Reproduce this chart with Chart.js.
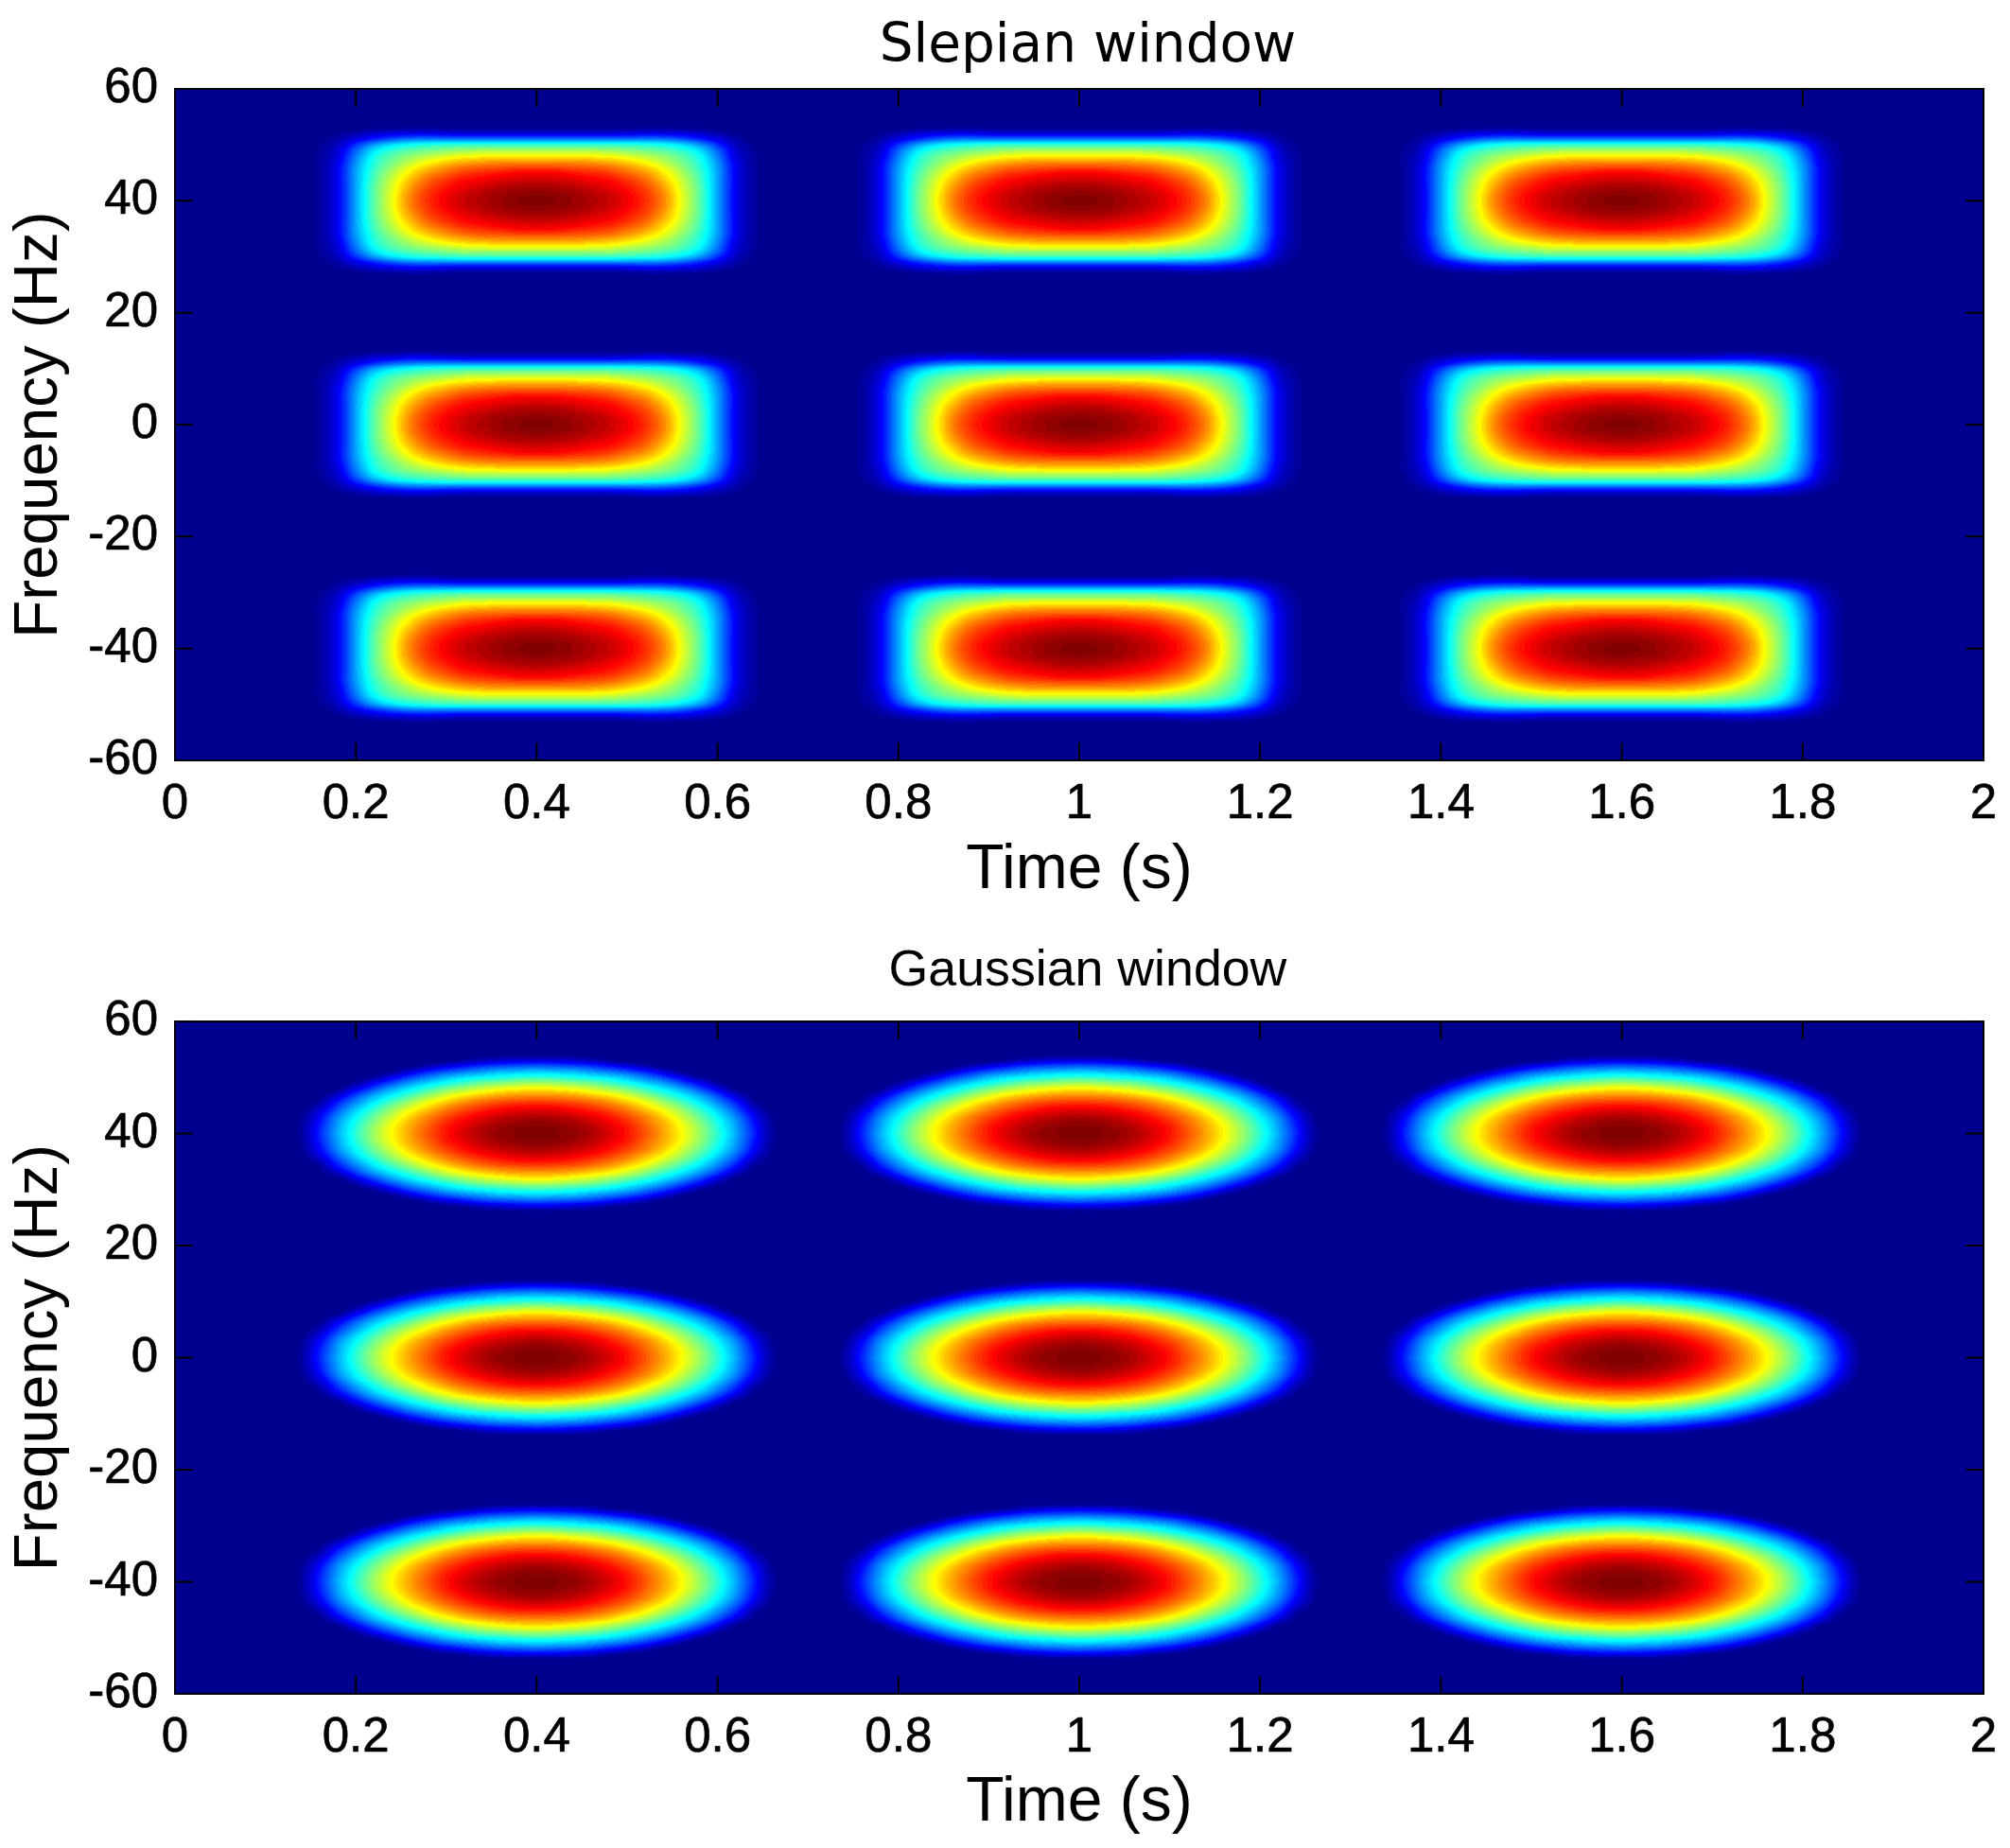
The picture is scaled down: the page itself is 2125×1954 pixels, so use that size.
<!DOCTYPE html>
<html>
<head>
<meta charset="utf-8">
<title>Slepian and Gaussian window spectrograms</title>
<script src="https://cdn.jsdelivr.net/npm/chart.js@4"></script>
<style>
  html, body { margin: 0; padding: 0; background: #fff; }
  canvas { display: block; position: absolute; left: 0; }
  #slepianChart { top: 0; }
  #gaussianChart { top: 977px; }
</style>
</head>
<body>
<canvas id="slepianChart" width="2125" height="977"></canvas>
<canvas id="gaussianChart" width="2125" height="977"></canvas>
<script>
const timeTicks = [0, 0.2, 0.4, 0.6, 0.8, 1, 1.2, 1.4, 1.6, 1.8, 2];
const freqTicks = [-60, -40, -20, 0, 20, 40, 60];

// burst centres
const burstTimes = [0.4, 1, 1.6];
const burstFreqs = [-40, 0, 40];

// row = Hz away from the centre (0,1,2...), column = 0.02 s steps away from the centre
const slepianTile = [
  [100, 99, 97, 95, 92, 88, 83, 74, 60, 46, 28, 10, 2],
  [99, 98, 97, 94, 92, 88, 82, 74, 60, 46, 28, 10, 2],
  [97, 96, 95, 93, 90, 86, 81, 72, 59, 46, 28, 10, 2],
  [94, 94, 92, 90, 88, 84, 79, 70, 58, 45, 28, 10, 2],
  [91, 90, 89, 87, 85, 81, 76, 67, 56, 44, 28, 10, 2],
  [87, 87, 85, 83, 81, 77, 72, 64, 54, 43, 28, 10, 2],
  [80, 80, 79, 78, 76, 72, 67, 60, 51, 41, 27, 10, 2],
  [72, 72, 72, 71, 69, 66, 61, 55, 48, 40, 26, 9, 2],
  [63, 63, 63, 62, 61, 58, 55, 51, 46, 38, 24, 8, 2],
  [53, 53, 53, 53, 52, 50, 48, 45, 41, 34, 21, 7, 1],
  [42, 42, 42, 42, 42, 41, 40, 38, 34, 27, 16, 5, 1],
  [24, 24, 24, 24, 24, 24, 24, 23, 20, 15, 9, 3, 0],
  [8, 8, 8, 8, 8, 9, 10, 10, 9, 7, 4, 1, 0],
  [1, 1, 1, 1, 1, 1, 2, 2, 1, 1, 0, 0, 0]
];
const gaussianTile = [
  [100, 99, 98, 95, 91, 85, 79, 71, 62, 52, 41, 29, 15, 2, 0],
  [99, 99, 97, 94, 90, 85, 78, 70, 62, 52, 40, 28, 14, 2, 0],
  [98, 97, 95, 92, 88, 83, 76, 69, 60, 50, 39, 27, 13, 1, 0],
  [95, 94, 92, 89, 85, 80, 74, 66, 57, 47, 36, 25, 11, 1, 0],
  [91, 90, 88, 85, 81, 76, 69, 62, 53, 43, 33, 21, 8, 0, 0],
  [85, 85, 83, 80, 76, 71, 64, 56, 48, 38, 28, 17, 4, 0, 0],
  [79, 78, 77, 74, 70, 64, 58, 50, 41, 33, 23, 12, 1, 0, 0],
  [71, 71, 69, 66, 62, 57, 50, 42, 35, 27, 17, 6, 0, 0, 0],
  [63, 62, 60, 57, 53, 48, 41, 35, 28, 19, 9, 0, 0, 0, 0],
  [53, 52, 50, 48, 43, 38, 33, 27, 19, 11, 2, 0, 0, 0, 0],
  [42, 41, 39, 37, 34, 30, 24, 18, 10, 2, 0, 0, 0, 0, 0],
  [32, 31, 30, 27, 24, 20, 15, 8, 1, 0, 0, 0, 0, 0, 0],
  [21, 20, 19, 17, 13, 9, 4, 0, 0, 0, 0, 0, 0, 0, 0],
  [9, 9, 7, 5, 2, 0, 0, 0, 0, 0, 0, 0, 0, 0, 0]
];

const font = 'Liberation Sans';
const nTime = 101, nFreq = 121; // 0.02 s and 1 Hz cells over the whole axes

Chart.defaults.color = '#000';

function buildCells(tile) {
  const cells = [];
  for (let j = 0; j < nFreq; j++) {
    for (let i = 0; i < nTime; i++) {
      const f = 60 - j;
      const t = i * 0.02;
      let v = 0;
      burstTimes.forEach(bt => {
        burstFreqs.forEach(bf => {
          const row = tile[Math.abs(f - bf)];
          const cell = row && row[Math.abs(i - Math.round(bt * 50))];
          if (cell) v = cell;
        });
      });
      cells.push({ x: t, y: f, v: v });
    }
  }
  return cells;
}

// matlab jet, 64 levels
function jet(idx) {
  const v = (idx + 1) / 64;
  const clip = c => Math.round(255 * Math.min(1, Math.max(0, c)));
  return [clip(1.5 - Math.abs(4 * v - 3)), clip(1.5 - Math.abs(4 * v - 2)), clip(1.5 - Math.abs(4 * v - 1))];
}

const heatPlugin = {
  id: 'heat',
  afterLayout(chart) {
    // titles sit a little right of the axes centre in the original
    chart.titleBlock.left = 203;
  },
  beforeDatasetsDraw(chart) {
    const cells = chart.data.datasets[0].data;
    const area = chart.chartArea;
    const xs = chart.scales.x, ys = chart.scales.y;

    const small = document.createElement('canvas');
    small.width = nTime; small.height = nFreq;
    const sctx = small.getContext('2d');
    const img = sctx.createImageData(nTime, nFreq);
    cells.forEach((c, n) => {
      const g = Math.round(c.v * 2.55);
      img.data[n * 4] = g; img.data[n * 4 + 1] = g; img.data[n * 4 + 2] = g; img.data[n * 4 + 3] = 255;
    });
    sctx.putImageData(img, 0, 0);

    const w = Math.round(area.right - area.left), h = Math.round(area.bottom - area.top);
    const big = document.createElement('canvas');
    big.width = w; big.height = h;
    const bctx = big.getContext('2d', { willReadFrequently: true });
    bctx.imageSmoothingEnabled = true;
    bctx.imageSmoothingQuality = 'high';
    const x0 = xs.getPixelForValue(-0.01), x1 = xs.getPixelForValue(2.01);
    const y0 = ys.getPixelForValue(60.5), y1 = ys.getPixelForValue(-60.5);
    bctx.drawImage(small, x0 - area.left, y0 - area.top, x1 - x0, y1 - y0);

    const out = bctx.getImageData(0, 0, w, h);
    for (let p = 0; p < out.data.length; p += 4) {
      const idx = Math.min(63, Math.floor(out.data[p] / 255 * 64));
      const rgb = jet(idx);
      out.data[p] = rgb[0]; out.data[p + 1] = rgb[1]; out.data[p + 2] = rgb[2]; out.data[p + 3] = 255;
    }
    bctx.putImageData(out, 0, 0);
    chart.ctx.drawImage(big, area.left, area.top);
  },
  afterDraw(chart) {
    // box and inward ticks on all four sides
    const ctx = chart.ctx, a = chart.chartArea;
    const xs = chart.scales.x, ys = chart.scales.y;
    ctx.save();
    ctx.strokeStyle = '#000';
    ctx.lineWidth = 2;
    ctx.strokeRect(a.left, a.top, a.right - a.left, a.bottom - a.top);
    ctx.beginPath();
    timeTicks.forEach(t => {
      const x = xs.getPixelForValue(t);
      ctx.moveTo(x, a.top); ctx.lineTo(x, a.top + 19);
      ctx.moveTo(x, a.bottom); ctx.lineTo(x, a.bottom - 19);
    });
    freqTicks.forEach(f => {
      const y = ys.getPixelForValue(f);
      ctx.moveTo(a.left, y); ctx.lineTo(a.left + 19, y);
      ctx.moveTo(a.right, y); ctx.lineTo(a.right - 19, y);
    });
    ctx.stroke();
    ctx.restore();
  }
};

function makeChart(id, label, tile, titleFont, titlePad, bottomH, xPad) {
  return new Chart(document.getElementById(id), {
    type: 'scatter',
    data: { datasets: [{ label: label, data: buildCells(tile), pointRadius: 0, pointHoverRadius: 0 }] },
    options: {
      responsive: false,
      devicePixelRatio: 1,
      animation: false,
      events: [],
      layout: { padding: { left: 0, right: 28, top: 0, bottom: 0 } },
      plugins: {
        legend: { display: false },
        tooltip: { enabled: false },
        title: { display: true, text: label, color: '#000', font: titleFont, padding: titlePad }
      },
      scales: {
        x: {
          type: 'linear', min: 0, max: 2,
          grid: { display: false },
          border: { display: false },
          afterBuildTicks: s => { s.ticks = timeTicks.map(v => ({ value: v })); },
          afterFit: s => { s.height = bottomH; s.paddingLeft = 0; s.paddingRight = 0; },
          ticks: { color: '#000', font: { family: font, size: 51 }, padding: 8, maxRotation: 0, autoSkip: false, textStrokeColor: '#000', textStrokeWidth: 0.7, callback: v => String(v) },
          title: { display: true, text: 'Time (s)', color: '#000', font: { family: font, size: 66 }, padding: { top: 0, bottom: xPad } }
        },
        y: {
          type: 'linear', min: -60, max: 60,
          grid: { display: false },
          border: { display: false },
          afterBuildTicks: s => { s.ticks = freqTicks.map(v => ({ value: v })); },
          afterFit: s => { s.width = 185; s.paddingTop = 0; s.paddingBottom = 0; },
          ticks: { color: '#000', font: { family: font, size: 51 }, padding: 10, autoSkip: false, textStrokeColor: '#000', textStrokeWidth: 0.7, callback: v => String(v) },
          title: { display: true, text: 'Frequency (Hz)', color: '#000', font: { family: font, size: 65.5 }, padding: { top: 3, bottom: 0 } }
        }
      }
    },
    plugins: [heatPlugin]
  });
}

makeChart('slepianChart', 'Slepian window', slepianTile,
  { family: 'DejaVu Sans', size: 56.5, weight: 'normal' }, { top: 16, bottom: 10.2 }, 173, 17);
makeChart('gaussianChart', 'Gaussian window', gaussianTile,
  { family: font, size: 53.7, weight: 'normal' }, { top: 18, bottom: 20.6 }, 163, 8);
</script>
</body>
</html>
